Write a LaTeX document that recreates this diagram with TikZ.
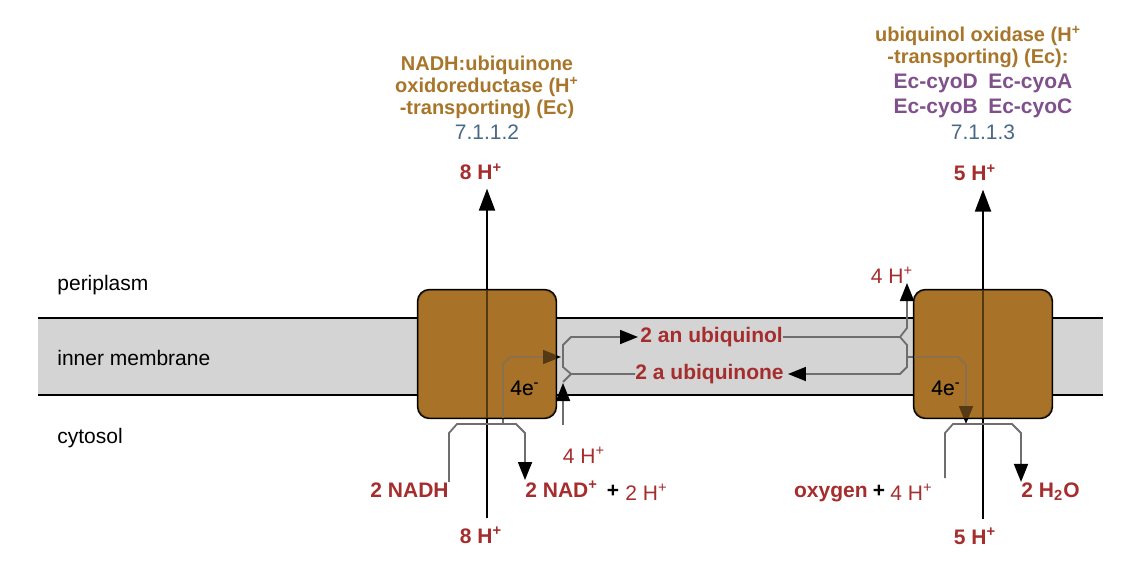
\documentclass[tikz,border=0pt]{standalone}
\usepackage{fontspec}
\setmainfont{Liberation Sans}
\usetikzlibrary{arrows.meta}
\definecolor{cpdred}{RGB}{165,45,45}
\definecolor{enzbrown}{RGB}{168,118,42}
\definecolor{boxbrown}{RGB}{168,115,40}
\definecolor{genepurple}{RGB}{128,80,140}
\definecolor{ecblue}{RGB}{72,104,134}
\definecolor{memgray}{RGB}{212,212,212}
\definecolor{linkgray}{RGB}{110,110,110}
\tikzset{
    every node/.append style={inner sep=0pt},
    region/.style={font=\fontsize{10.5}{12}\selectfont},
    cpd/.style={text=cpdred, font=\bfseries\fontsize{10.5}{12}\selectfont},
    ion/.style={text=cpdred, font=\fontsize{10.5}{12}\selectfont},
    plussign/.style={font=\bfseries\fontsize{10.5}{12}\selectfont},
    electrons/.style={font=\fontsize{10.5}{12}\selectfont},
    enzyme/.style={text=enzbrown, align=center, font=\bfseries\fontsize{10}{11}\selectfont},
    gene/.style={text=genepurple, align=center, font=\bfseries\fontsize{10.5}{12.5}\selectfont},
    ecnum/.style={text=ecblue, font=\fontsize{10.5}{12}\selectfont},
    complex/.style={draw=black, line width=0.6pt, fill=boxbrown, rounded corners=6pt, minimum width=69pt, minimum height=64pt},
    membrane/.style={line width=1pt},
    pump/.style={line width=1pt, -{Triangle[length=11pt, width=8pt]}, shorten <=4pt, shorten >=4pt},
    link/.style={linkgray, line width=0.9pt},
    linkarrow/.style={link, -{Triangle[length=9pt, width=7pt, black]}},
    x=0.5pt, y=-0.5pt
}

\begin{document}
\begin{tikzpicture}
\useasboundingbox (0,0) rectangle (1138,572);

% membrane
\fill[memgray] (38,318) rectangle (1103,395);
\draw[membrane] (38,318) -- (1103,318);
\draw[membrane] (38,395) -- (1103,395);
\node[region, anchor=base west] (peri) at (57,290) {periplasm};
\node[region, anchor=base west] (inner) at (57,365) {inner membrane};
\node[region, anchor=base west] (cyto) at (57,443) {cytosol};

% complexes
\node[complex] (nuo) at (487,354) {};
\node[complex] (cyo) at (983,354) {};

\node[enzyme, anchor=north] (nuoname) at (487,56) {NADH:ubiquinone\\oxidoreductase (H\textsuperscript{+}\\-transporting) (Ec)};
\node[ecnum, anchor=base] (nuoec) at (487,140) {7.1.1.2};
\node[enzyme, anchor=north] (cyoname) at (978,26) {ubiquinol oxidase (H\textsuperscript{+}\\-transporting) (Ec):};
\node[gene, anchor=north] (cyogenes) at (983,74) {Ec-cyoD\enspace Ec-cyoA\\Ec-cyoB\enspace Ec-cyoC};
\node[ecnum, anchor=base] (cyoec) at (983,140) {7.1.1.3};

% protons across the membrane
\node[cpd, anchor=base] (nuoHout) at (481,180) {8 H\textsuperscript{+}};
\node[cpd, anchor=base] (nuoHin) at (481,543) {8 H\textsuperscript{+}};
\node[cpd, anchor=base] (cyoHout) at (975,181) {5 H\textsuperscript{+}};
\node[cpd, anchor=base] (cyoHin) at (975,544) {5 H\textsuperscript{+}};
\draw[pump] (nuoHin.north -| nuo) -- (nuoHout.south -| nuo);
\draw[pump] (cyoHin.north -| cyo) -- (cyoHout.south -| cyo);

% NADH side
\node[cpd, anchor=base east] (nadh) at (449,497) {2 NADH};
\node[cpd, anchor=base west] (nad) at (525,497) {2 NAD\textsuperscript{+}};
\node[plussign, anchor=base] (plusA) at (613,497) {+};
\node[ion, anchor=base west] (hA) at (625,500) {2 H\textsuperscript{+}};
\node[ion, anchor=base] (hB) at (584,463) {4 H\textsuperscript{+}};
\node[electrons, anchor=base] (eA) at (525,395) {4e\textsuperscript{-}};

% quinone pool
\node[cpd, anchor=west] (ubol) at (640,337) {2 an ubiquinol};
\node[cpd, anchor=west] (ubone) at (635,374) {2 a ubiquinone};

% oxidase side
\node[cpd, anchor=base east] (oxy) at (868,497) {oxygen};
\node[plussign, anchor=base] (plusB) at (879,497) {+};
\node[ion, anchor=base west] (hC) at (890,500) {4 H\textsuperscript{+}};
\node[cpd, anchor=base west] (water) at (1021,497) {2 H\textsubscript{2}O};
\node[ion, anchor=base] (hD) at (892,283) {4 H\textsuperscript{+}};
\node[electrons, anchor=base] (eB) at (946,395) {4e\textsuperscript{-}};

\coordinate (nuoBar) at (503,424);
\coordinate (qJoin) at (561,357);
\coordinate (hBtail) at (563,425);
\coordinate (cyoBar) at (966,424);
\coordinate (oxyTail) at (945,478);

\draw[linkarrow] (nadh.north east) -- (449,433) -- (457,424) -- (516,424) -- (525,433) -- (nad.north west);
\draw[linkarrow] (nuoBar) -- (503,364) -- (510,357) -- (qJoin);
\draw[linkarrow, shorten >=1pt] (ubone.west) -- (571,374) -- (563,367) -- (563,345) -- (571,337) -- (ubol.west);
\draw[link] (571,374) -- (563,382);
\draw[linkarrow] (hBtail) -- (563,383);

\draw[link] (ubol.east) -- (900,337);
\draw[linkarrow] (900,337) -- (907,328) -- (hD.base -| 907,0);
\draw[linkarrow, shorten >=2pt] (900,337) -- (907,345) -- (907,367) -- (900,374) -- (ubone.east);
\draw[linkarrow] (907,357) -- (958,357) -- (966,365) -- (cyoBar);
\draw[linkarrow] (oxyTail) -- (945,433) -- (953,424) -- (1012,424) -- (1021,433) -- (water.north west);

% lines seen through the complexes
\fill[boxbrown, fill opacity=0.5, rounded corners=6pt] (nuo.north west) rectangle (nuo.south east);
\fill[boxbrown, fill opacity=0.5, rounded corners=6pt] (cyo.north west) rectangle (cyo.south east);
\draw[line width=0.6pt, rounded corners=6pt] (nuo.north west) rectangle (nuo.south east);
\draw[line width=0.6pt, rounded corners=6pt] (cyo.north west) rectangle (cyo.south east);
\node[electrons, anchor=base] (eA2) at (eA.base) {4e\textsuperscript{-}};
\node[electrons, anchor=base] (eB2) at (eB.base) {4e\textsuperscript{-}};
\end{tikzpicture}
\end{document}
